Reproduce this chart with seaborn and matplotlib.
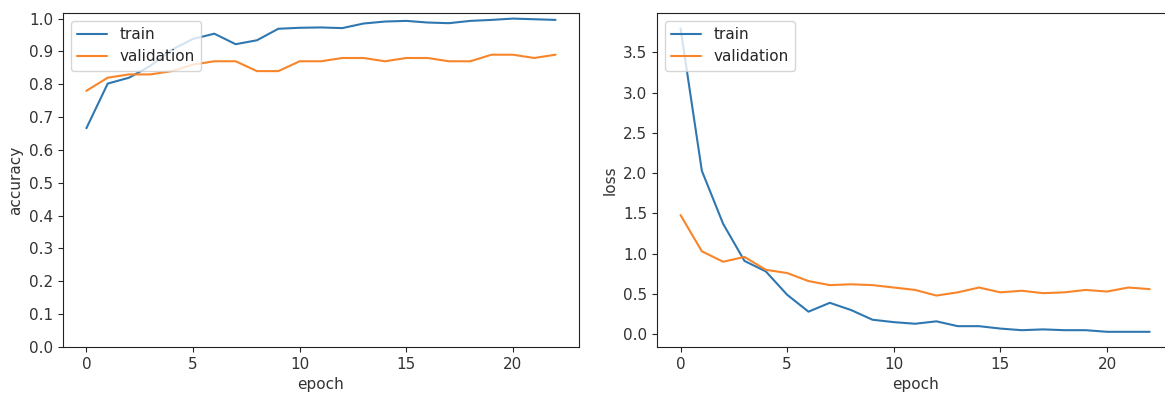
import numpy as np
import matplotlib
matplotlib.use("Agg")
import matplotlib.pyplot as plt
import seaborn as sns

# values (epochs 0..22)
epochs = np.arange(23)

train_acc = [0.666, 0.802, 0.820, 0.856, 0.905, 0.938, 0.954, 0.922, 0.934, 0.969,
             0.972, 0.973, 0.971, 0.985, 0.991, 0.993, 0.988, 0.986, 0.993, 0.996,
             1.000, 0.998, 0.996]
val_acc = [0.78, 0.82, 0.83, 0.83, 0.84, 0.86, 0.87, 0.87, 0.84, 0.84,
           0.87, 0.87, 0.88, 0.88, 0.87, 0.88, 0.88, 0.87, 0.87, 0.89,
           0.89, 0.88, 0.89]

train_loss = [3.80, 2.03, 1.37, 0.91, 0.78, 0.49, 0.28, 0.39, 0.30, 0.18,
              0.15, 0.13, 0.16, 0.10, 0.10, 0.07, 0.05, 0.06, 0.05, 0.05,
              0.03, 0.03, 0.03]
val_loss = [1.48, 1.03, 0.90, 0.96, 0.80, 0.76, 0.66, 0.61, 0.62, 0.61,
            0.58, 0.55, 0.48, 0.52, 0.58, 0.52, 0.54, 0.51, 0.52, 0.55,
            0.53, 0.58, 0.56]

series_names = ["train", "validation"]
colors = ["#2f77b0", "#f8852a"]

sns.set_style("ticks")
plt.rcParams["font.family"] = ["DejaVu Sans"]

fig = plt.figure(figsize=(11.65, 3.97), dpi=100)
ax1 = fig.add_axes([0.054, 0.126, 0.443, 0.841])
ax2 = fig.add_axes([0.564, 0.126, 0.443, 0.841])

for ax, series, ylabel in [(ax1, (train_acc, val_acc), "accuracy"),
                           (ax2, (train_loss, val_loss), "loss")]:
    for name, vals, c in zip(series_names, series, colors):
        sns.lineplot(x=epochs, y=vals, label=name, color=c, linewidth=1.5, ax=ax)
    ax.set_xlabel("epoch", fontsize=11, color="#333333")
    ax.set_ylabel(ylabel, fontsize=11, color="#333333")
    ax.tick_params(labelsize=11, direction="out", length=3.5, width=0.8,
                   labelcolor="#333333")
    ax.set_xticks([0, 5, 10, 15, 20])
    ax.legend(loc="upper left", fontsize=11)
    for s in ax.spines.values():
        s.set_linewidth(0.8)
        s.set_color("#222222")

ax1.set_ylim(bottom=0)
ax1.set_yticks(np.arange(0, 1.01, 0.1))
ax1.set_yticklabels([f"{v:.1f}" for v in np.arange(0, 1.01, 0.1)])
ax2.set_yticks(np.arange(0, 3.6, 0.5))

fig.savefig("out.png", dpi=100)
